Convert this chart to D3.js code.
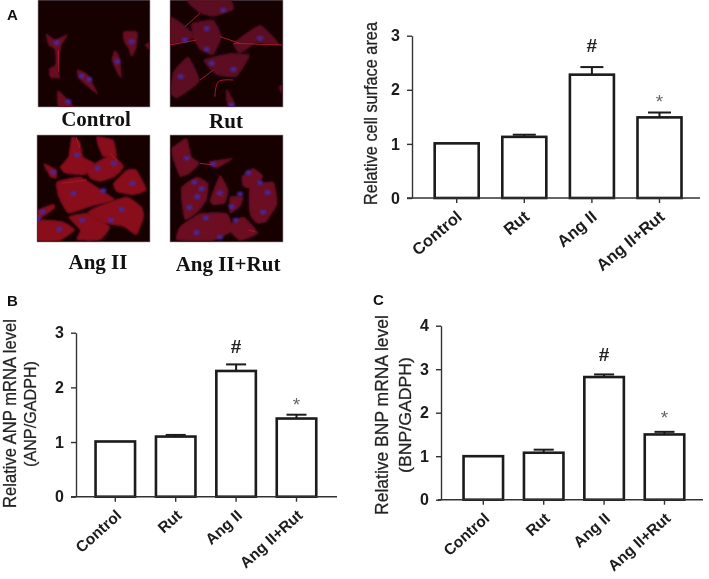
<!DOCTYPE html>
<html><head><meta charset="utf-8">
<script src="https://cdnjs.cloudflare.com/ajax/libs/d3/7.8.5/d3.min.js"></script>
<style>html,body{margin:0;padding:0;background:#fff}svg{display:block}</style>
</head><body><svg id="c" width="709" height="579"></svg>
<script>
const categories = ["Control","Rut","Ang II","Ang II+Rut"];
const areaValues = [1.01,1.13,2.28,1.49];
const areaErrTop = [1.01,1.17,2.42,1.58];
const anpValues = [1.01,1.10,2.30,1.43];
const anpErrTop = [1.01,1.13,2.42,1.50];
const bnpValues = [1.00,1.08,2.82,1.50];
const bnpErrTop = [1.00,1.15,2.88,1.56];
const areaTicks = [0,1,2,3];
const anpTicks = [0,1,2,3];
const bnpTicks = [0,1,2,3,4];
const marks = ["","","#","*"];
const markLevelsArea = [0,0,2.83,1.87];
const markLevelsAnp = [0,0,2.76,1.77];
const markLevelsBnp = [0,0,3.35,2.00];

const svg = d3.select("#c");
const defs = svg.append("defs");
defs.append("filter").attr("id","soft").attr("filterUnits","userSpaceOnUse")
  .attr("x",0).attr("y",0).attr("width",709).attr("height",579)
  .append("feGaussianBlur").attr("stdDeviation",0.35);
defs.append("filter").attr("id","cellblur").attr("x","-20%").attr("y","-20%").attr("width","140%").attr("height","140%")
  .append("feGaussianBlur").attr("stdDeviation",3.5);
defs.append("filter").attr("id","nucblur").attr("x","-50%").attr("y","-50%").attr("width","200%").attr("height","200%")
  .append("feGaussianBlur").attr("stdDeviation",3);

/* micrographs: hand-traced outlines, in 3x crop units */
const micrographs = [
 {x:38,y:0,w:112,h:107,fill:"#6a0c20",
  cells:[
   [[138,100],[165,118],[205,102],[185,135],[178,180],[175,205],[180,235],[150,232],[148,205],[166,195],[165,150],[145,135]],
   [[370,95],[412,95],[410,140],[395,172],[385,145],[372,125]],
   [[345,150],[360,175],[365,237],[350,215],[335,180]],
   [[232,208],[265,225],[295,284],[265,262],[235,235]],
   [[172,270],[195,290],[222,322],[175,322]],
   [[435,135],[450,128],[450,152]]],
  fibres:[[[175,150],[175,215]]],
  nuclei:[[170,128],[395,125],[352,185],[245,228],[268,238],[205,305]]},
 {x:170,y:0,w:113,h:107,fill:"#5c0b22",
  cells:[
   [[560,0],[690,0],[700,30],[640,50],[600,40]],
   [[510,50],[545,70],[590,110],[540,130],[510,130]],
   [[575,70],[640,60],[665,110],[640,165],[600,150],[580,115]],
   [[700,130],[780,75],[840,135],[770,130],[720,160]],
   [[610,180],[690,160],[750,165],[710,230],[650,225]],
   [[520,215],[565,170],[600,240],[570,270],[530,295],[512,280]],
   [[680,265],[705,310],[685,322],[678,295]],
   [[835,260],[848,255],[848,285]]],
  fibres:[[[510,135],[590,120]],[[645,290],[655,245],[700,240]],[[700,130],[848,135]],[[600,40],[555,80]],[[660,110],[720,130]],[[600,240],[640,210]]],
  nuclei:[[620,85],[555,120],[780,115],[620,148],[635,190],[700,208],[542,230],[670,30],[695,316]]},
 {x:37,y:135,w:113,h:107,fill:"#8a0f1d",
  cells:[
   [[215,410],[240,425],[250,470],[285,490],[255,525],[195,520],[180,500],[205,470]],
   [[290,410],[340,420],[350,470],[310,470],[295,440]],
   [[260,510],[300,480],[340,465],[372,500],[345,530],[300,545],[270,535]],
   [[130,490],[170,510],[170,535],[150,530]],
   [[170,545],[240,530],[290,560],[345,600],[270,620],[205,640],[175,590]],
   [[340,550],[380,510],[410,510],[440,570],[400,585],[350,575]],
   [[290,620],[380,590],[425,620],[432,650],[410,705],[370,680],[310,670],[260,640]],
   [[112,660],[190,665],[225,690],[180,722],[112,722]],
   [[112,630],[160,612],[165,625],[130,650],[112,655]],
   [[205,650],[260,640],[330,680],[300,720],[230,720],[240,690]]],
  fibres:[[[228,410],[240,445]],[[330,460],[352,482]],[[185,550],[260,540]]],
  nuclei:[[232,465],[160,516],[293,505],[342,490],[397,550],[220,580],[310,572],[365,628],[247,660],[332,660],[178,688],[128,635],[114,655]]},
 {x:170,y:135,w:113,h:107,fill:"#6c0e20",
  cells:[
   [[515,445],[560,415],[575,470],[600,490],[570,520],[540,530],[520,480]],
   [[625,485],[700,475],[650,505]],
   [[545,560],[590,530],[625,550],[620,600],[590,640],[555,660],[545,610]],
   [[630,600],[660,525],[685,570],[675,610],[640,615]],
   [[725,530],[760,505],[790,530],[760,565],[730,560]],
   [[750,560],[820,545],[832,610],[800,650],[750,640]],
   [[750,640],[830,610],[800,665],[770,670]],
   [[530,720],[540,680],[600,640],[680,640],[700,690],[640,722]],
   [[680,680],[730,650],[775,700],[720,722]],
   [[690,590],[730,590],[720,620],[690,640]]],
  fibres:[[[600,490],[640,495]],[[745,690],[765,695]],[[650,580],[668,590]]],
  nuclei:[[560,474],[640,492],[745,518],[583,546],[605,566],[592,590],[780,548],[803,578],[720,582],[660,578],[568,622],[695,620],[617,654],[707,660],[790,636],[590,698],[660,712]]}
];
const outline = d3.line().curve(d3.curveCardinalClosed.tension(0.55));
const strand = d3.line().curve(d3.curveCatmullRom);
const mg = svg.append("g").attr("filter","url(#soft)");
micrographs.forEach(m=>{
  mg.append("rect").attr("x",m.x).attr("y",m.y).attr("width",m.w).attr("height",m.h)
    .attr("fill","#140006").attr("stroke","#a89ca0").attr("stroke-width",0.6);
  const id="clip"+m.x+"_"+m.y;
  defs.append("clipPath").attr("id",id).append("rect").attr("x",m.x*3).attr("y",m.y*3).attr("width",m.w*3).attr("height",m.h*3);
  const g=mg.append("g").attr("transform","scale(0.33333)").attr("clip-path",`url(#${id})`);
  g.selectAll("path.cell").data(m.cells).join("path").attr("class","cell").attr("d",outline).attr("fill",m.fill).attr("filter","url(#cellblur)");
  g.selectAll("path.fibre").data(m.fibres).join("path").attr("class","fibre").attr("d",strand).attr("fill","none")
    .attr("stroke","#a8182a").attr("stroke-width",3);
  g.selectAll("ellipse").data(m.nuclei).join("ellipse")
    .attr("cx",d=>d[0]).attr("cy",d=>d[1]).attr("rx",9).attr("ry",7).attr("fill","#46289c").attr("filter","url(#nucblur)");
});
const serifLabels=[["Control",96,126],["Rut",226,128],["Ang II",98,269],["Ang II+Rut",228,271]];
svg.selectAll("text.mic").data(serifLabels).join("text").attr("class","mic")
  .attr("x",d=>d[1]).attr("y",d=>d[2]).text(d=>d[0])
  .attr("text-anchor","middle").attr("fill","#111")
  .style("font","bold 21px 'Liberation Serif'");

const sans="'Liberation Sans'";
[["A",7,20],["B",7,306],["C",373,305]].forEach(d=>{
  svg.append("text").attr("x",d[1]).attr("y",d[2]).text(d[0]).attr("fill","#111").style("font",`bold 15px ${sans}`);
});

function panel(o){
  const g=svg.append("g").attr("filter","url(#soft)");
  const y=d3.scaleLinear().domain([0,d3.max(o.ticks)]).range([o.y0,o.yTop]);
  const p=1-o.barW/o.step;
  const x=d3.scaleBand().domain(categories).range([o.c0-o.step/2,o.c0-o.step/2+o.step*4]).paddingInner(p).paddingOuter(p/2);
  const color="#1a1a1a";
  g.selectAll("line.err").data(categories).join("line").attr("class","err")
    .attr("x1",d=>x(d)+x.bandwidth()/2).attr("x2",d=>x(d)+x.bandwidth()/2)
    .attr("y1",(d,i)=>y(o.values[i])).attr("y2",(d,i)=>y(o.errs[i]))
    .attr("stroke",color).attr("stroke-width",2);
  g.selectAll("line.cap").data(categories).join("line").attr("class","cap")
    .attr("x1",d=>x(d)+x.bandwidth()/2-o.cap).attr("x2",d=>x(d)+x.bandwidth()/2+o.cap)
    .attr("y1",(d,i)=>y(o.errs[i])).attr("y2",(d,i)=>y(o.errs[i]))
    .attr("stroke",color).attr("stroke-width",2)
    .attr("display",(d,i)=>o.errs[i]>o.values[i]?null:"none");
  g.selectAll("rect").data(categories).join("rect")
    .attr("x",d=>x(d)).attr("width",x.bandwidth())
    .attr("y",(d,i)=>y(o.values[i])).attr("height",(d,i)=>y(0)-y(o.values[i]))
    .attr("fill","#fff").attr("stroke",color).attr("stroke-width",2.6);
  const ya=g.append("g").attr("transform",`translate(${o.x0},0)`)
    .call(d3.axisLeft(y).tickValues(o.ticks).tickFormat(d3.format("d")).tickSize(5).tickSizeOuter(0).tickPadding(7));
  ya.selectAll("path,line").attr("stroke","#333").attr("stroke-width",1.4);
  ya.selectAll("text").attr("fill","#1a1a1a").style("font",`bold 16px ${sans}`);
  const xa=g.append("g").attr("transform",`translate(0,${o.y0})`)
    .call(d3.axisBottom(x).tickSize(5).tickSizeOuter(0));
  xa.select("path").remove();
  xa.selectAll("line").attr("stroke","#333").attr("stroke-width",1.4);
  xa.selectAll("text").attr("fill","#1a1a1a").attr("text-anchor","end")
    .attr("x",0).attr("y",0).attr("dy","0.35em")
    .attr("transform",`translate(${o.labelShift},16) rotate(${o.labelAngle})`)
    .style("font",`bold ${o.labelSize}px ${sans}`);
  g.append("line").attr("x1",o.base[0]).attr("x2",o.base[1]).attr("y1",o.y0).attr("y2",o.y0)
    .attr("stroke","#333").attr("stroke-width",1.6);
  g.selectAll("text.sig").data(categories).join("text").attr("class","sig")
    .attr("x",d=>x(d)+x.bandwidth()/2).attr("y",(d,i)=>y(o.levels[i]))
    .attr("dy",(d,i)=>i===3?"0.6em":"0.36em").attr("text-anchor","middle").text((d,i)=>marks[i])
    .attr("fill",(d,i)=>i===3?"#666":"#222")
    .style("font",(d,i)=>`${i===3?"normal":"bold"} 19px ${sans}`);
  o.titles.forEach(t=>{
    const el=g.append("text").attr("text-anchor","middle")
      .attr("fill","#222").attr("stroke","#222").attr("stroke-width",0.25).text(t.s).style("font",`${t.size}px ${sans}`);
    const k=t.len/el.node().getComputedTextLength();
    el.attr("transform",`translate(${t.x},${t.y}) rotate(-90) scale(${k},1)`);
  });
}
panel({values:areaValues,errs:areaErrTop,ticks:areaTicks,levels:markLevelsArea,x0:412,y0:198,yTop:35.7,c0:456.7,step:67.6,barW:44,cap:11.5,base:[407,700],labelAngle:-40,labelSize:16.5,labelShift:2.5,
  titles:[{s:"Relative cell surface area",x:377,y:113.5,len:183,size:18.5}]});
panel({values:anpValues,errs:anpErrTop,ticks:anpTicks,levels:markLevelsAnp,x0:76,y0:496.7,yTop:332.7,c0:115.3,step:60.4,barW:39.5,cap:10,base:[71,337],labelAngle:-42,labelSize:15.5,labelShift:3.5,
  titles:[{s:"Relative ANP mRNA level",x:16,y:413.5,len:189,size:17.5},{s:"(ANP/GADPH)",x:36,y:414,len:106,size:17}]});
panel({values:bnpValues,errs:bnpErrTop,ticks:bnpTicks,levels:markLevelsBnp,x0:441,y0:499.7,yTop:325.7,c0:483.3,step:60.4,barW:39.5,cap:10,base:[438,703],labelAngle:-42,labelSize:15.5,labelShift:3.5,
  titles:[{s:"Relative BNP mRNA level",x:388,y:415,len:200,size:17.5},{s:"(BNP/GADPH)",x:411,y:415,len:116,size:17}]});
</script></body></html>
